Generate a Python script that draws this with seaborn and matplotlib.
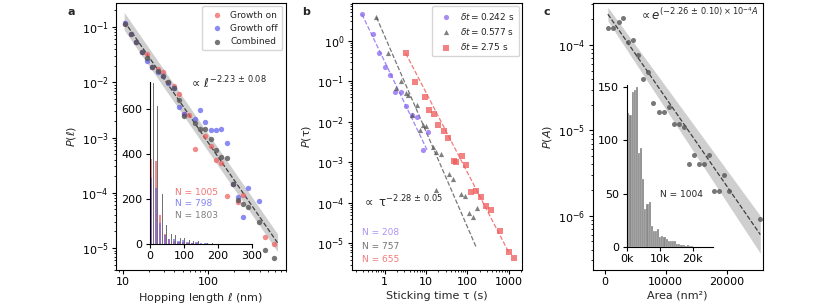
import numpy as np
import pandas as pd
import matplotlib.pyplot as plt
import seaborn as sns
from matplotlib.ticker import NullFormatter

sns.set_style('ticks')
plt.rcParams['font.family'] = ['DejaVu Sans']
plt.rcParams['font.size'] = 8
plt.rcParams['mathtext.fontset'] = 'dejavusans'
plt.rcParams['axes.linewidth'] = 0.8
plt.rcParams['axes.edgecolor'] = 'black'
plt.rcParams['xtick.color'] = 'black'
plt.rcParams['ytick.color'] = 'black'
plt.rcParams['xtick.major.size'] = 3
plt.rcParams['ytick.major.size'] = 3
plt.rcParams['xtick.minor.size'] = 1.6
plt.rcParams['ytick.minor.size'] = 1.6
plt.rcParams['xtick.major.pad'] = 2
plt.rcParams['ytick.major.pad'] = 2.5
plt.rcParams['axes.labelpad'] = 2.5

RED = '#f05a5a'
BLUE = '#5a5af0'
GRAY = '#555555'
PURPLE = '#8a66f0'
SMALL = 6.5

# ---------------- panel a: hopping length ----------------
on_len = [10.6, 12.3, 14.3, 16.6, 19.1, 22.1, 25.4, 29.2, 33.8, 39.3, 44.8, 52.1, 59.8,
          69.0, 92.0, 106, 123, 141, 164, 194, 222, 253, 459, 593]
on_p = [0.112, 0.076, 0.053, 0.035, 0.033, 0.0187, 0.0175, 0.0152, 0.0100, 0.0087, 0.0060,
        0.0027, 0.0026, 0.00061, 0.00107, 0.00071, 0.00040, 0.00035, 0.000088, 0.000146,
        0.000067, 0.000091, 0.0000159, 0.0000118]
off_len = [10.6, 12.3, 14.3, 16.6, 19.1, 22.1, 25.4, 29.2, 33.8, 39.3, 44.8, 52.1, 69.0,
           80.0, 92.0, 106, 123, 142, 164, 194, 222, 253, 292, 390]
off_p = [0.118, 0.076, 0.053, 0.035, 0.0238, 0.0187, 0.0152, 0.013, 0.0098, 0.0080, 0.0035,
         0.0027, 0.0022, 0.0031, 0.0019, 0.00137, 0.00137, 0.0014, 0.00081, 0.000146,
         0.000084, 0.000036, 0.000123, 0.000072]
comb_len = [10.6, 12.3, 14.3, 16.6, 19.1, 22.1, 25.4, 29.2, 33.8, 39.3, 44.8, 52.1, 69.0,
            80.0, 92.0, 106, 123, 142, 164, 194, 222, 253, 292, 390, 459, 593]
comb_p = [0.112, 0.076, 0.053, 0.035, 0.028, 0.019, 0.016, 0.0132, 0.0100, 0.0079, 0.0048,
          0.0025, 0.0018, 0.0014, 0.0014, 0.00094, 0.00060, 0.00044, 0.00042, 0.000146,
          0.000073, 0.000064, 0.000056, 0.000030, 0.0000093, 0.0000066]
fit_a = dict(amp=23.0, expo=-2.23, lo=10.3, hi=645, band=0.16)

# inset histogram of hopping lengths (bin width ~13.3 nm)
hist_a_left = [0, 13.3, 26.7, 40, 53.3, 66.7, 80, 93.3, 106.7, 120, 133.3, 146.7, 160, 173.3]
hist_a_width = 13.3
hist_a_on = [379, 369, 130, 45, 25, 15, 12, 9, 7, 5, 4, 3, 2, 1]
hist_a_off = [295, 250, 95, 40, 22, 25, 15, 18, 12, 8, 10, 6, 4, 3]
hist_a_comb = [715, 615, 225, 85, 47, 40, 27, 27, 19, 13, 14, 9, 6, 4]

# ---------------- panel b: sticking time ----------------
t1_tau = [0.28, 0.52, 0.73, 1.0, 1.32, 1.81, 2.44, 3.35, 4.5, 6.06, 8.5, 11.4]
t1_p = [4.5, 1.44, 0.49, 0.228, 0.142, 0.053, 0.053, 0.0244, 0.0146, 0.0133, 0.0020, 0.0057]
t2_tau = [0.63, 1.23, 1.92, 2.44, 3.2, 3.75, 4.7, 6.06, 7.3, 8.5, 10.2, 14.8, 17.9, 22.6,
          35.4, 45, 17.2, 69.1, 86.5, 110, 138, 172]
t2_p = [3.8, 0.49, 0.067, 0.10, 0.052, 0.046, 0.0146, 0.026, 0.0062, 0.0083, 0.0078, 0.0024,
        0.0018, 0.0016, 0.00053, 0.0004, 0.00021, 0.00017, 0.000145, 0.000056, 0.000045,
        0.000073]
t3_tau = [3.22, 5.43, 9.3, 11.8, 16, 19.9, 27.3, 34.8, 47, 54.5, 74.6, 95, 126, 167, 219,
          280, 370, 610, 1000, 1330]
t3_p = [0.49, 0.097, 0.041, 0.020, 0.016, 0.0083, 0.0059, 0.0041, 0.0011, 0.0010, 0.00145,
        0.00085, 0.00019, 0.0002, 0.00014, 0.000085, 0.000066, 0.00002, 0.0000062, 0.0000045]
fits_b = [dict(amp=0.303, expo=-2.12, lo=0.28, hi=10.6),
          dict(amp=1.285, expo=-2.347, lo=0.63, hi=166),
          dict(amp=4.88, expo=-1.965, lo=3.22, hi=1000)]

# ---------------- panel c: area ----------------
area = [540, 1360, 2300, 3000, 3820, 4640, 5460, 6280, 7100, 7920, 8850, 9670, 10490,
        11310, 12130, 12950, 13770, 14590, 15460, 16280, 17100, 17920, 18740, 19560, 20380,
        25410]
area_p = [1.59e-4, 1.57e-4, 1.87e-4, 2.05e-4, 1.076e-4, 1.14e-4, 7.64e-5, 3.97e-5, 4.88e-5,
          2.11e-5, 1.66e-5, 1.66e-5, 1.9e-5, 1.19e-5, 1.19e-5, 1.09e-5, 4.06e-6, 5.16e-6,
          4.06e-6, 4.06e-6, 5.16e-6, 1.92e-6, 1.92e-6, 3.02e-6, 1.92e-6, 9.2e-7]
fit_c = dict(a0=500, p0=2.3e-4, a1=25500, p1=6.0e-7)

hist_c_width = 650
hist_c_counts = [126, 124, 145, 147, 150, 88, 93, 64, 35, 40, 42, 19, 15, 15, 17, 9, 10, 9,
                 7, 5, 5, 5, 5, 3, 3, 2, 2, 1, 2, 1, 1]


def sub_bins(lefts, width, start, stop):
    # contiguous edges so each drawn bar covers [left+start*w, left+stop*w] of its bin
    edges, mids = [], []
    for l in lefts:
        a, b = l + start * width, l + stop * width
        edges += [a, b]
        mids.append((a + b) / 2)
    return edges, mids


# ---------------- figure ----------------
fig = plt.figure(figsize=(8.3, 3.08), dpi=100)
ax_a = fig.add_axes([0.140, 0.123, 0.204, 0.867])
ax_b = fig.add_axes([0.424, 0.123, 0.205, 0.867])
ax_c = fig.add_axes([0.714, 0.123, 0.205, 0.867])

# panel a
xf = np.geomspace(fit_a['lo'], fit_a['hi'], 100)
yf = fit_a['amp'] * xf ** fit_a['expo']
ax_a.fill_between(xf, yf / 10 ** fit_a['band'], yf * 10 ** fit_a['band'],
                  color='0.78', alpha=0.85, lw=0, zorder=0)
sns.lineplot(x=xf, y=yf, ax=ax_a, color='0.25', ls='--', lw=0.9, zorder=1)
sns.scatterplot(x=on_len, y=on_p, ax=ax_a, color=RED, alpha=0.7, s=15, lw=0,
                label='Growth on', zorder=3)
sns.scatterplot(x=off_len, y=off_p, ax=ax_a, color=BLUE, alpha=0.7, s=15, lw=0,
                label='Growth off', zorder=3)
sns.scatterplot(x=comb_len, y=comb_p, ax=ax_a, color=GRAY, alpha=0.8, s=15, lw=0,
                label='Combined', zorder=3)
ax_a.set_xscale('log')
ax_a.set_yscale('log')
ax_a.set_xlim(8.3, 800)
ax_a.set_ylim(4e-6, 0.27)
ax_a.set_xticks([10, 100])
ax_a.set_xticklabels(['10', '100'])
ax_a.xaxis.set_minor_formatter(NullFormatter())
ax_a.set_xlabel(r'Hopping length $\ell$ (nm)')
ax_a.set_ylabel(r'$P(\ell)$')
ax_a.legend(loc='upper right', fontsize=SMALL, handletextpad=0.4, borderpad=0.5,
            labelspacing=0.45, borderaxespad=0.35, handlelength=2.2)
ax_a.text(0.428, 0.699, r'$\propto\,\ell^{-2.23\,\pm\,0.08}$', transform=ax_a.transAxes,
          fontsize=8.5, va='center')

# panel a inset: red / blue overlapping, combined as thin gray bar
ins_a = fig.add_axes([0.1807, 0.2068, 0.1229, 0.527])
ins_a.patch.set_alpha(0)
edges_rb, mids_rb = sub_bins(hist_a_left, hist_a_width, 0.0, 0.52)
edges_g, mids_g = sub_bins(hist_a_left, hist_a_width, 0.6, 0.8)
sns.histplot(x=mids_rb, weights=hist_a_on, bins=edges_rb, color=RED, alpha=0.7, lw=0,
             ax=ins_a)
sns.histplot(x=mids_rb, weights=hist_a_off, bins=edges_rb, color=BLUE, alpha=0.6, lw=0,
             ax=ins_a)
sns.histplot(x=mids_g, weights=hist_a_comb, bins=edges_g, color='0.35', alpha=0.85, lw=0,
             ax=ins_a)
ins_a.set_xlim(0, 300)
ins_a.set_ylim(0, 720)
ins_a.set_xticks([0, 100, 200, 300])
ins_a.set_yticks([0, 200, 400, 600])
ins_a.set_xlabel('')
ins_a.set_ylabel('')
sns.despine(ax=ins_a)
ax_a.text(0.349, 0.291, 'N = 1005', color=RED, alpha=0.85, transform=ax_a.transAxes,
          fontsize=SMALL, va='center')
ax_a.text(0.349, 0.250, 'N = 798', color=BLUE, alpha=0.75, transform=ax_a.transAxes,
          fontsize=SMALL, va='center')
ax_a.text(0.349, 0.206, 'N = 1803', color='0.5', transform=ax_a.transAxes,
          fontsize=SMALL, va='center')

# panel b
b_sets = [(t1_tau, t1_p, PURPLE, 'o', r'$\delta t = 0.242$ s'),
          (t2_tau, t2_p, GRAY, '^', r'$\delta t = 0.577$ s'),
          (t3_tau, t3_p, RED, 's', r'$\delta t = 2.75$ s')]
for (tx, ty, col, mk, lab), f in zip(b_sets, fits_b):
    xf = np.geomspace(f['lo'], f['hi'], 50)
    sns.lineplot(x=xf, y=f['amp'] * xf ** f['expo'], ax=ax_b, color=col, ls='--',
                 lw=0.9, alpha=0.8, zorder=1)
    sns.scatterplot(x=tx, y=ty, ax=ax_b, color=col, marker=mk, alpha=0.75, s=14, lw=0,
                    label=lab, zorder=3)
ax_b.set_xscale('log')
ax_b.set_yscale('log')
ax_b.set_xlim(0.16, 2130)
ax_b.set_ylim(2.2e-6, 8.5)
ax_b.set_xticks([1, 10, 100, 1000])
ax_b.set_xticklabels(['1', '10', '100', '1000'])
ax_b.xaxis.set_minor_formatter(NullFormatter())
ax_b.set_xlabel('Sticking time τ (s)')
ax_b.set_ylabel(r'$P$(τ)')
ax_b.legend(loc='upper right', fontsize=SMALL, handletextpad=0.4, borderpad=0.5,
            labelspacing=0.45, borderaxespad=0.35, handlelength=2.2)
ax_b.text(0.057, 0.256, r'$\propto$ τ$^{-2.28\,\pm\,0.05}$', transform=ax_b.transAxes,
          fontsize=8.5, va='center')
ax_b.text(0.057, 0.139, 'N = 208', color=PURPLE, alpha=0.7, transform=ax_b.transAxes,
          fontsize=SMALL, va='center')
ax_b.text(0.057, 0.087, 'N = 757', color='0.45', transform=ax_b.transAxes,
          fontsize=SMALL, va='center')
ax_b.text(0.057, 0.040, 'N = 655', color=RED, alpha=0.8, transform=ax_b.transAxes,
          fontsize=SMALL, va='center')

# panel c
xf = np.linspace(fit_c['a0'], fit_c['a1'], 100)
k = np.log(fit_c['p1'] / fit_c['p0']) / (fit_c['a1'] - fit_c['a0'])
yf = fit_c['p0'] * np.exp(k * (xf - fit_c['a0']))
w = 0.08 + 0.14 * (xf - fit_c['a0']) / (fit_c['a1'] - fit_c['a0'])
ax_c.fill_between(xf, yf / 10 ** w, yf * 10 ** w, color='0.78', alpha=0.85, lw=0, zorder=0)
sns.lineplot(x=xf, y=yf, ax=ax_c, color='0.25', ls='--', lw=0.9, zorder=1)
sns.scatterplot(x=area, y=area_p, ax=ax_c, color=GRAY, alpha=0.8, s=13, lw=0, zorder=3)
ax_c.set_yscale('log')
ax_c.set_xlim(-2000, 25900)
ax_c.set_ylim(2.3e-7, 3.1e-4)
ax_c.set_xticks([0, 10000, 20000])
ax_c.set_xlabel('Area (nm²)')
ax_c.set_ylabel(r'$P(A)$')
ax_c.text(0.975, 0.955, r'$\propto e^{(-2.26\,\pm\,0.10)\times10^{-4}A}$',
          transform=ax_c.transAxes, fontsize=8.5, ha='right', va='center')

# panel c inset
ins_c = fig.add_axes([0.755, 0.199, 0.1036, 0.525])
ins_c.patch.set_alpha(0)
c_edges = [i * hist_c_width for i in range(len(hist_c_counts) + 1)]
c_centers = [e + hist_c_width / 2 for e in c_edges[:-1]]
sns.histplot(x=c_centers, weights=hist_c_counts, bins=c_edges, color='0.45', alpha=0.85,
             lw=0.3, edgecolor='white', ax=ins_c)
ins_c.set_xlim(-200, 26100)
ins_c.set_ylim(0, 152)
ins_c.set_xticks([0, 10000, 20000])
ins_c.set_xticklabels(['0k', '10k', '20k'])
ins_c.set_yticks([0, 50, 100, 150])
ins_c.set_xlabel('')
ins_c.set_ylabel('')
sns.despine(ax=ins_c)
ax_c.text(0.524, 0.284, 'N = 1004', transform=ax_c.transAxes, fontsize=SMALL,
          ha='center', va='center')

for ax, lab in [(ax_a, 'a'), (ax_b, 'b'), (ax_c, 'c')]:
    ax.text(-0.29, 0.985, lab, transform=ax.transAxes, fontsize=8, fontweight='bold',
            va='top')

fig.savefig('out.png', dpi=100)
